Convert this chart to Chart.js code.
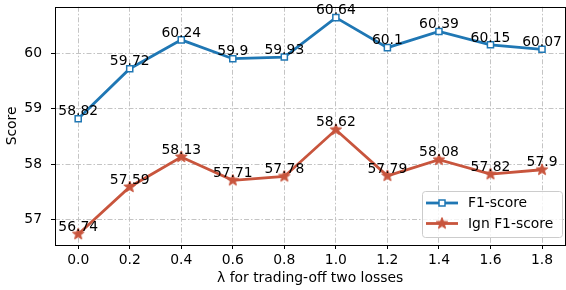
<!DOCTYPE html>
<html>
<head>
<meta charset="utf-8">
<script src="https://cdn.jsdelivr.net/npm/chart.js@4/dist/chart.umd.min.js"></script>
<style>
    html, body { margin: 0; padding: 0; background: #fff; overflow: hidden; }
    canvas { display: block; }
</style>
</head>
<body>
<canvas id="chart" width="572" height="290"></canvas>
<script>
// data
const lambdas = [0.0, 0.2, 0.4, 0.6, 0.8, 1.0, 1.2, 1.4, 1.6, 1.8];
const f1Scores = [58.82, 59.72, 60.24, 59.9, 59.93, 60.64, 60.1, 60.39, 60.15, 60.07];
const ignF1Scores = [56.74, 57.59, 58.13, 57.71, 57.78, 58.62, 57.79, 58.08, 57.82, 57.9];
const seriesNames = ['F1-score', 'Ign F1-score'];
const xTicks = [0.0, 0.2, 0.4, 0.6, 0.8, 1.0, 1.2, 1.4, 1.6, 1.8];
const yTicks = [57, 58, 59, 60];

const FONT = 'DejaVu Sans';
const FONT_SIZE = 13.9;
const BLUE = '#1f77b4';
const RED = '#c8553d';

// filled five point star, used as the point image
function makeStar(color, outer, inner) {
    const size = Math.ceil(outer * 2 + 2);
    const c = document.createElement('canvas');
    c.width = size;
    c.height = size;
    const g = c.getContext('2d');
    const cx = size / 2, cy = size / 2;
    g.beginPath();
    for (let i = 0; i < 10; i++) {
        const r = i % 2 === 0 ? outer : inner;
        const a = -Math.PI / 2 + i * Math.PI / 5;
        const px = cx + r * Math.cos(a);
        const py = cy + r * Math.sin(a);
        if (i === 0) g.moveTo(px, py); else g.lineTo(px, py);
    }
    g.closePath();
    g.fillStyle = color;
    g.fill();
    g.lineWidth = 1;
    g.strokeStyle = color;
    g.stroke();
    return c;
}
const starImg = makeStar(RED, 6, 2.6);

const toPoints = (ys) => ys.map((y, i) => ({ x: lambdas[i], y: y }));

// frame around the plot area (matplotlib spines)
const framePlugin = {
    id: 'frame',
    afterDatasetsDraw(chart) {
        const { ctx, chartArea: a } = chart;
        ctx.save();
        ctx.strokeStyle = '#000';
        ctx.lineWidth = 1;
        ctx.strokeRect(Math.round(a.left) + 0.5, Math.round(a.top) + 0.5,
            Math.round(a.right - a.left), Math.round(a.bottom - a.top));
        ctx.restore();
    }
};

// value labels above every point
const valueLabels = {
    id: 'valueLabels',
    afterDatasetsDraw(chart) {
        const ctx = chart.ctx;
        ctx.save();
        ctx.font = `${FONT_SIZE}px "${FONT}"`;
        ctx.fillStyle = '#000';
        ctx.textAlign = 'center';
        ctx.textBaseline = 'alphabetic';
        chart.data.datasets.forEach((ds, di) => {
            const meta = chart.getDatasetMeta(di);
            meta.data.forEach((pt, i) => {
                ctx.fillText(String(ds.data[i].y), pt.x, pt.y - 3.3);
            });
        });
        ctx.restore();
    }
};

// legend drawn like the matplotlib one: line handle with marker in the middle
const lineLegend = {
    id: 'lineLegend',
    afterDraw(chart) {
        const ctx = chart.ctx;
        const box = { x: 422, y: 191, w: 140, h: 46, r: 3 };
        ctx.save();
        ctx.beginPath();
        ctx.roundRect(box.x + 0.5, box.y + 0.5, box.w, box.h, box.r);
        ctx.fillStyle = 'rgba(255,255,255,0.8)';
        ctx.fill();
        ctx.strokeStyle = '#cccccc';
        ctx.lineWidth = 1;
        ctx.stroke();

        const rows = [203, 223.5];
        ctx.font = `${FONT_SIZE}px "${FONT}"`;
        ctx.textBaseline = 'middle';
        ctx.textAlign = 'left';
        chart.data.datasets.forEach((ds, i) => {
            const y = rows[i];
            ctx.beginPath();
            ctx.moveTo(426, y);
            ctx.lineTo(458, y);
            ctx.strokeStyle = ds.borderColor;
            ctx.lineWidth = 2.8;
            ctx.stroke();
            if (i === 0) {
                ctx.fillStyle = '#fff';
                ctx.fillRect(439, y - 3, 6, 6);
                ctx.lineWidth = 1.5;
                ctx.strokeRect(439, y - 3, 6, 6);
            } else {
                ctx.drawImage(starImg, 442 - starImg.width / 2, y - starImg.height / 2);
            }
            ctx.fillStyle = '#000';
            ctx.fillText(ds.label, 468, y + 0.5);
        });
        ctx.restore();
    }
};

const tickFont = { family: FONT, size: FONT_SIZE };

new Chart(document.getElementById('chart'), {
    type: 'line',
    data: {
        datasets: [
            {
                label: seriesNames[0],
                data: toPoints(f1Scores),
                borderColor: BLUE,
                borderWidth: 2.8,
                pointStyle: 'rect',
                pointRadius: 4.3,
                pointBorderWidth: 1.5,
                pointBackgroundColor: '#fff',
                pointBorderColor: BLUE,
                tension: 0
            },
            {
                label: seriesNames[1],
                data: toPoints(ignF1Scores),
                borderColor: RED,
                borderWidth: 2.8,
                pointStyle: starImg,
                pointBackgroundColor: RED,
                pointBorderColor: RED,
                tension: 0
            }
        ]
    },
    options: {
        responsive: false,
        animation: false,
        devicePixelRatio: 1,
        layout: { padding: { left: 0, right: 3, top: 5, bottom: 0 } },
        scales: {
            x: {
                type: 'linear',
                min: -0.09,
                max: 1.89,
                afterBuildTicks: (s) => { s.ticks = xTicks.map(v => ({ value: v })); },
                afterFit: (s) => { s.height = 45; s.paddingLeft = 0; s.paddingRight = 0; },
                ticks: {
                    font: tickFont,
                    color: '#000',
                    padding: 3,
                    maxRotation: 0,
                    autoSkip: false,
                    callback: (v) => Number(v).toFixed(1)
                },
                grid: {
                    color: '#c4c4c4',
                    lineWidth: 1,
                    tickColor: '#000',
                    tickLength: 4
                },
                border: { display: false, dash: [5, 2, 1.5, 2] },
                title: {
                    display: true,
                    text: 'λ for trading-off two losses',
                    font: tickFont,
                    color: '#000',
                    padding: { top: 0, bottom: 3 }
                }
            },
            y: {
                min: 56.545,
                max: 60.835,
                afterBuildTicks: (s) => { s.ticks = yTicks.map(v => ({ value: v })); },
                afterFit: (s) => { s.width = 55; s.paddingTop = 0; s.paddingBottom = 0; },
                ticks: {
                    font: tickFont,
                    color: '#000',
                    padding: 9,
                    callback: (v) => String(v)
                },
                grid: {
                    color: '#c4c4c4',
                    lineWidth: 1,
                    tickColor: '#000',
                    tickLength: 4
                },
                border: { display: false, dash: [5, 2, 1.5, 2] },
                title: {
                    display: true,
                    text: 'Score',
                    font: tickFont,
                    color: '#000',
                    padding: { top: 4, bottom: 0 }
                }
            }
        },
        plugins: {
            legend: { display: false },
            tooltip: { enabled: false }
        }
    },
    plugins: [framePlugin, valueLabels, lineLegend]
});
</script>
</body>
</html>
